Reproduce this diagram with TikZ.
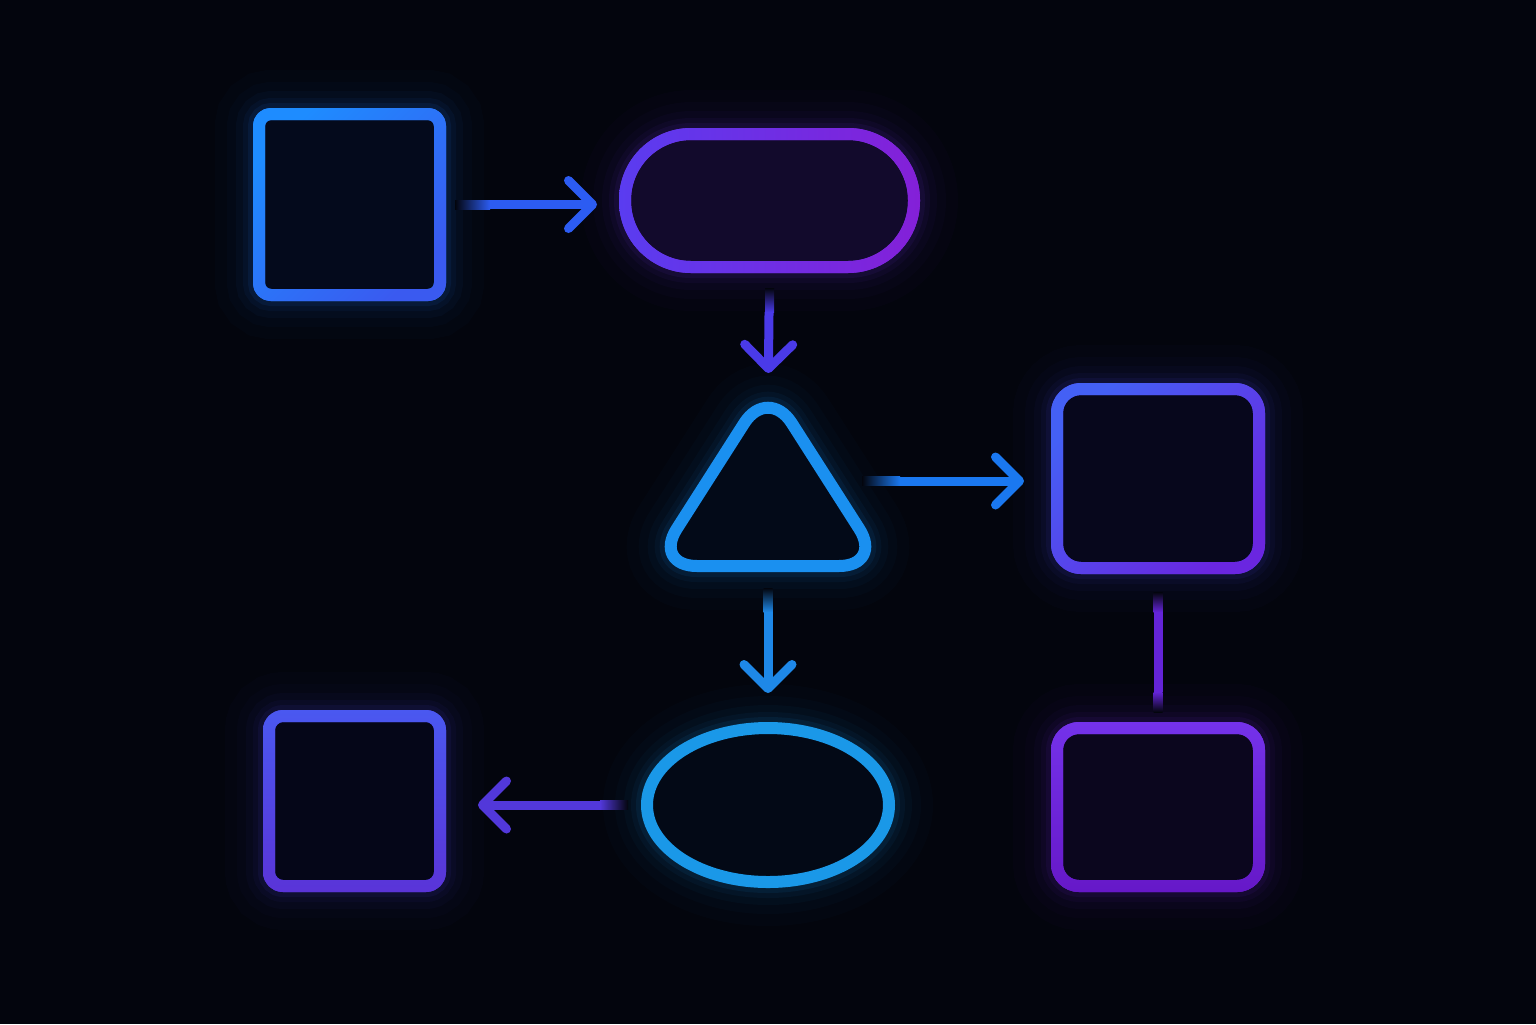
\documentclass[tikz,border=0pt]{standalone}
\usetikzlibrary{arrows.meta,shapes.geometric,calc}
\definecolor{bg}{HTML}{03050D}
\definecolor{cA}{HTML}{2A7CFF}
\definecolor{cB}{HTML}{7230E6}
\definecolor{cT}{HTML}{1A90F0}
\definecolor{cR}{HTML}{5046EE}
\definecolor{cL}{HTML}{5040E0}
\definecolor{cE}{HTML}{1A98E8}
\definecolor{cP}{HTML}{7228DE}
\definecolor{fA}{HTML}{040A1C}
\definecolor{fB}{HTML}{120A2C}
\definecolor{fT}{HTML}{030A18}
\definecolor{fR}{HTML}{07071C}
\definecolor{fL}{HTML}{050618}
\definecolor{fE}{HTML}{030916}
\definecolor{fP}{HTML}{0B061E}
\definecolor{aA}{HTML}{2C5CF2}
\definecolor{aB}{HTML}{4A3AE8}
\definecolor{aT}{HTML}{1A78F0}
\definecolor{aE}{HTML}{1E88E8}
\definecolor{aL}{HTML}{5238DA}
\definecolor{aP}{HTML}{6424D8}
% gradient colours of the rings
\definecolor{gA1}{HTML}{1E8CFF}\definecolor{gA2}{HTML}{3A5AF0}
\definecolor{gB1}{HTML}{5A3CF0}\definecolor{gB2}{HTML}{8420D8}
\definecolor{gR1}{HTML}{4460F5}\definecolor{gR2}{HTML}{6A26E0}
\definecolor{gL1}{HTML}{4A58F0}\definecolor{gL2}{HTML}{5A34D8}
\definecolor{gP1}{HTML}{7432EA}\definecolor{gP2}{HTML}{6618C8}
\tikzset{
  neon/.style={draw=#1, line width=6pt, outer sep=0pt,
    preaction={draw=#1, draw opacity=0.02, line width=44pt},
    preaction={draw=#1, draw opacity=0.025, line width=32pt},
    preaction={draw=#1, draw opacity=0.035, line width=23pt},
    preaction={draw=#1, draw opacity=0.05, line width=16pt},
    preaction={draw=#1, draw opacity=0.08, line width=11pt}},
  boxshape/.style={rectangle, inner sep=0pt, outer sep=0pt},
  conn/.style={draw=#1, line width=4.5pt, line cap=butt,
    -{Straight Barb[length=12pt,width=24pt,round]}},
  link/.style={draw=#1, line width=4.5pt, line cap=butt},
  fadeh/.style 2 args={left color=#1, right color=#2},
  fadev/.style 2 args={top color=#1, bottom color=#2}
}
% gradient ring over a rounded rectangle node: node, outer radius, inner radius, shading options
\newcommand\neonring[4]{%
  \path[even odd rule, path picture={\shade[#4] (path picture bounding box.south west) rectangle (path picture bounding box.north east);}]
      [rounded corners=#2] ($(#1.north west)+(-3pt,3pt)$) rectangle ($(#1.south east)+(3pt,-3pt)$)
      [rounded corners=#3] ($(#1.north west)+(3pt,-3pt)$) rectangle ($(#1.south east)+(-3pt,3pt)$);}
\begin{document}
\begin{tikzpicture}[x=0.5pt,y=-0.5pt]
\fill[bg] (0,0) rectangle (1536,1024);
\useasboundingbox (0,0) rectangle (1536,1024);

% shapes
\node[boxshape, neon=cA, fill=fA, rounded corners=6pt,
  minimum width=90.5pt, minimum height=90.5pt] (s1) at (349.5,204.5) {};
\node[boxshape, neon=cB, fill=fB, rounded corners=33pt,
  minimum width=144.5pt, minimum height=66.5pt] (st) at (769.5,200.5) {};
\node[boxshape, neon=cR, fill=fR, rounded corners=12pt,
  minimum width=101pt, minimum height=89.5pt] (rs) at (1158,478.5) {};
\node[boxshape, neon=cL, fill=fL, rounded corners=7pt,
  minimum width=85.5pt, minimum height=85pt] (bl) at (354.5,801) {};
\node[ellipse, inner sep=0pt, neon=cE, fill=fE,
  minimum width=121pt, minimum height=77pt] (el) at (768,805) {};
\node[boxshape, neon=cP, fill=fP, rounded corners=11pt,
  minimum width=101pt, minimum height=79pt] (br) at (1158,807) {};

\neonring{s1}{9pt}{3pt}{top color=gA1, bottom color=gA2, shading angle=45}
\neonring{st}{36pt}{30pt}{left color=gB1, right color=gB2}
\neonring{rs}{15pt}{9pt}{top color=gR1, bottom color=gR2, shading angle=45}
\neonring{bl}{10pt}{4pt}{top color=gL1, bottom color=gL2}
\neonring{br}{14pt}{8pt}{top color=gP1, bottom color=gP2}

% triangle
\draw[neon=cT, fill=fT, rounded corners=22pt]
  (768,386) -- (883,566) -- (653,566) -- cycle;
\coordinate (trtop) at (768,410);
\coordinate (trright) at (852,481);
\coordinate (trbot) at (768,566);

% connectors (solid part)
\draw[conn=aA, shorten <=25pt, shorten >=14pt] (s1.east) -- (s1.east -| st.west);
\draw[conn=aB, shorten <=22.5pt, shorten >=18.5pt] (st.south) -- (trtop);
\draw[conn=aT, shorten <=24pt, shorten >=16.5pt] (trright) -- (trright -| rs.west);
\draw[conn=aE, shorten <=23pt, shorten >=17.5pt] (trbot) -- (el.north);
\draw[conn=aL, shorten <=23.5pt, shorten >=19pt] (el.west) -- (el.west -| bl.east);
\draw[link=aP, shorten <=22pt, shorten >=18pt] (rs.south) -- (br.north);

% faded starts of the connectors
\shade[fadeh={bg}{aA}] ($(s1.east)+(7.5pt,-2.25pt)$) rectangle ($(s1.east)+(25pt,2.25pt)$);
\shade[fadev={bg}{aB}] ($(st.south)+(-2.25pt,-10.5pt)$) rectangle ($(st.south)+(2.25pt,-22.5pt)$);
\shade[fadeh={bg}{aT}] ($(trright)+(5pt,-2.25pt)$) rectangle ($(trright)+(24pt,2.25pt)$);
\shade[fadev={bg}{aE}] ($(trbot)+(-2.25pt,-11pt)$) rectangle ($(trbot)+(2.25pt,-23pt)$);
\shade[fadeh={aL}{bg}] ($(el.west)+(-23.5pt,-2.25pt)$) rectangle ($(el.west)+(-9.5pt,2.25pt)$);
\shade[fadev={bg}{aP}] ($(rs.south)+(-2.25pt,-12pt)$) rectangle ($(rs.south)+(2.25pt,-22pt)$);
\shade[fadev={aP}{bg}] ($(br.north)+(-2.25pt,8pt)$) rectangle ($(br.north)+(2.25pt,18pt)$);
\end{tikzpicture}
\end{document}
